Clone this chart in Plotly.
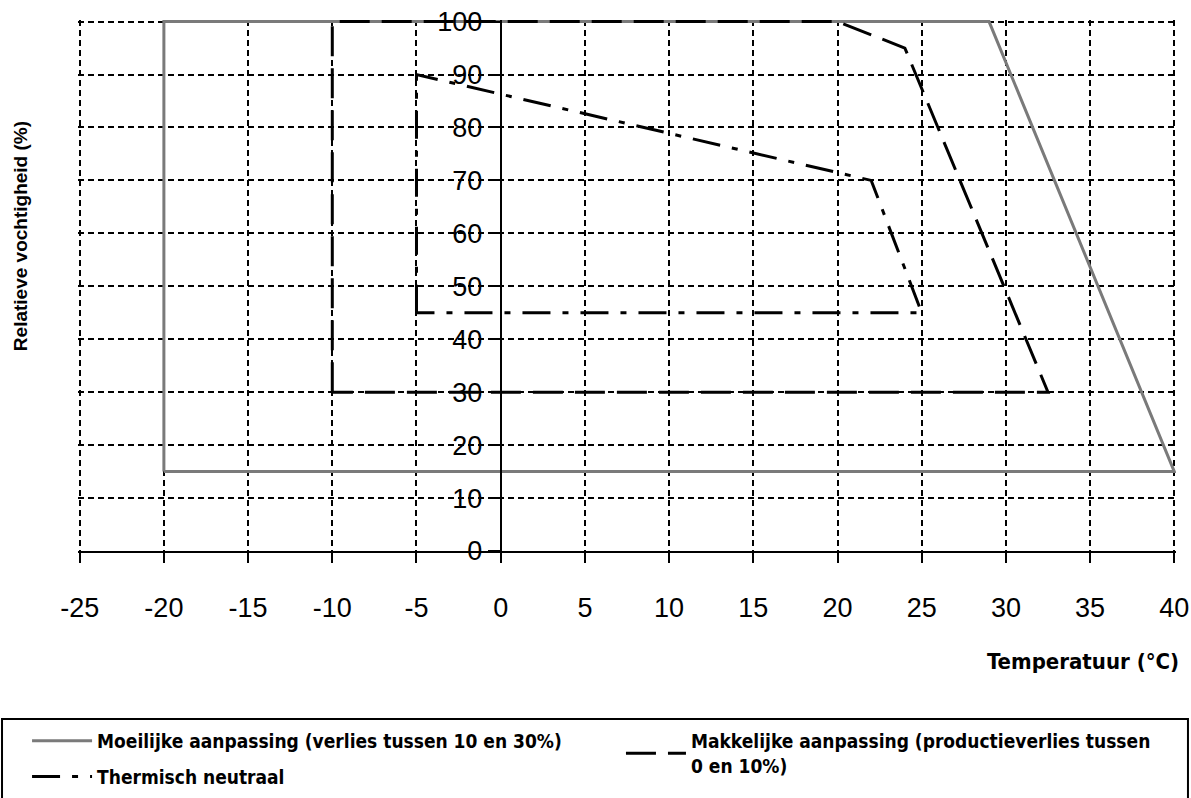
import plotly.graph_objects as go

# Temperatuur (°C) / relatieve vochtigheid (%) hoekpunten per zone
moeilijk_temp = [-20, -20, 29, 40, -20]
moeilijk_rv = [15, 100, 100, 15, 15]

makkelijk_temp = [-10, -10, 20, 24, 32.5, -10]
makkelijk_rv = [30, 100, 100, 95, 30, 30]

neutraal_temp = [-5, -5, 22, 25, -5]
neutraal_rv = [45, 90, 70, 45, 45]

x_ticks = list(range(-25, 41, 5))
x_labels = [str(v) for v in x_ticks]
y_ticks = list(range(0, 101, 10))
y_labels = [str(v) for v in y_ticks]

TICK_FONT = dict(family="Liberation Sans, Arial", size=27, color="black")
LEGEND_FONT = dict(family="DejaVu Sans Condensed, DejaVu Sans", size=19, color="black")

fig = go.Figure()

fig.add_trace(go.Scatter(
    x=moeilijk_temp, y=moeilijk_rv, mode="lines",
    name="<b>Moeilijke aanpassing (verlies tussen 10 en 30%)</b>",
    line=dict(color="#7a7a7a", width=3),
    legend="legend", legendgroup="a",
))
fig.add_trace(go.Scatter(
    x=makkelijk_temp, y=makkelijk_rv, mode="lines",
    name="<b>Makkelijke aanpassing (productieverlies tussen<br>0 en 10%)</b>",
    line=dict(color="black", width=3, dash="30px,12px"),
    legend="legend2",
))
fig.add_trace(go.Scatter(
    x=neutraal_temp, y=neutraal_rv, mode="lines",
    name="<b>Thermisch neutraal</b>",
    line=dict(color="black", width=3, dash="28px,12px,6px,12px"),
    legend="legend", legendgroup="b",
))

grid = dict(showgrid=True, gridcolor="black", gridwidth=2, griddash="6px,4px",
            zeroline=False, showline=True, linecolor="black", linewidth=2,
            ticks="outside", tickcolor="black", tickwidth=2, tickfont=TICK_FONT,
            automargin=False, ticklabeloverflow="allow")

# small padding on the ranges so the edge gridlines are still drawn
fig.update_layout(
    width=1191, height=798,
    margin=dict(l=78, r=15, t=20, b=247, autoexpand=False),
    paper_bgcolor="white", plot_bgcolor="white",
    xaxis=dict(range=[-25.1, 40.1], tickvals=x_ticks, ticktext=x_labels,
               ticklen=10, ticklabelstandoff=22, **grid),
    yaxis=dict(range=[0, 100.3], tickvals=y_ticks, ticktext=y_labels, ticklen=12,
               anchor="free", position=25.1 / 65.2, **grid),
    legend=dict(x=-0.0464, y=-0.322, xanchor="left", yanchor="top",
                font=LEGEND_FONT, bgcolor="rgba(0,0,0,0)", tracegroupgap=8,
                itemwidth=60),
    legend2=dict(x=0.4945, y=-0.322, xanchor="left", yanchor="top",
                 font=LEGEND_FONT, bgcolor="rgba(0,0,0,0)", itemwidth=60),
    shapes=[dict(type="rect", xref="paper", yref="paper",
                 x0=-0.0692, x1=1.0109, y0=-0.6, y1=-0.3164,
                 line=dict(color="black", width=2))],
    annotations=[
        dict(text="<b>Relatieve vochtigheid (%)</b>", textangle=-90,
             xref="paper", yref="paper", x=-0.0528, y=0.593,
             xanchor="center", yanchor="middle",
             showarrow=False, font=dict(family="Liberation Sans, Arial", size=19, color="black")),
        dict(text="<b>Temperatuur (°C)</b>", xref="paper", yref="paper",
             x=1.0046, y=-0.209, xanchor="right", yanchor="middle",
             showarrow=False, font=dict(family="DejaVu Sans Condensed, DejaVu Sans", size=22, color="black")),
    ],
)

# page body without its default margin, so the 1191x798 figure fits the window
fig.write_html("out.html", config={"displayModeBar": False},
               post_script="document.body.style.margin='0';")
